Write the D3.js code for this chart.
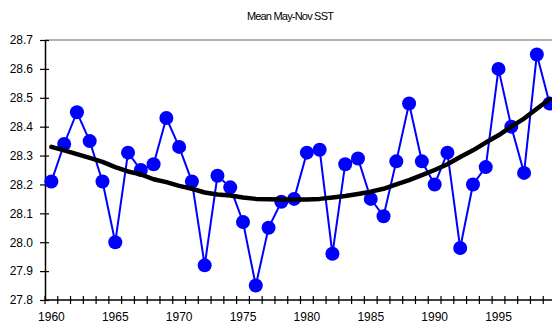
<!DOCTYPE html>
<html>
<head>
<meta charset="utf-8">
<script src="https://cdn.jsdelivr.net/npm/d3@7"></script>
<style>
  body { margin: 0; background: #fff; }
  svg { display: block; font-family: "Liberation Sans", Arial, sans-serif; }
</style>
</head>
<body>
<svg id="chart" width="552" height="324"></svg>
<script>
// years on the category axis
var years = d3.range(1960, 2000);

// mean May-Nov SST
var sst = [28.21, 28.34, 28.45, 28.35, 28.21, 28.00, 28.31, 28.25, 28.27, 28.43,
           28.33, 28.21, 27.92, 28.23, 28.19, 28.07, 27.85, 28.05, 28.14, 28.15,
           28.31, 28.32, 27.96, 28.27, 28.29, 28.15, 28.09, 28.28, 28.48, 28.28,
           28.20, 28.31, 27.98, 28.20, 28.26, 28.60, 28.40, 28.24, 28.65, 28.48];

// smooth trend (black curve)
var trend = [28.33, 28.318, 28.305, 28.292, 28.278, 28.26, 28.245, 28.235, 28.218, 28.208,
             28.195, 28.185, 28.172, 28.165, 28.162, 28.155, 28.15, 28.149, 28.148, 28.148,
             28.148, 28.15, 28.155, 28.16, 28.167, 28.175, 28.185, 28.2, 28.215, 28.232,
             28.25, 28.27, 28.295, 28.318, 28.345, 28.37, 28.4, 28.428, 28.462, 28.495];

var yTicks = [27.8, 27.9, 28.0, 28.1, 28.2, 28.3, 28.4, 28.5, 28.6, 28.7];
var xLabels = [1960, 1965, 1970, 1975, 1980, 1985, 1990, 1995];

var svg = d3.select('#chart');
var plotL = 45, plotR = 556, plotT = 40, plotB = 300;

var x = d3.scaleBand().domain(years).range([plotL, plotR]);
var y = d3.scaleLinear().domain([27.8, 28.7]).range([plotB, plotT]);
var cx = function(d, i) { return x(years[i]) + x.bandwidth() / 2; };

// title
svg.append('text')
    .attr('x', 290).attr('y', 20)
    .attr('text-anchor', 'middle')
    .style('font-size', '11px')
    .style('letter-spacing', '-0.8px')
    .text('Mean May-Nov SST');

// top frame line
svg.append('line')
    .attr('x1', plotL).attr('x2', 552)
    .attr('y1', plotT).attr('y2', plotT)
    .attr('stroke', '#999').attr('stroke-width', 1.5);

// y axis
var yAxis = svg.append('g')
    .attr('transform', 'translate(' + plotL + ',0)')
    .call(d3.axisLeft(y).tickValues(yTicks).tickFormat(d3.format('.1f')).tickSize(5).tickSizeOuter(0));
yAxis.select('.domain').attr('stroke', '#000').attr('stroke-width', 1.5);
yAxis.selectAll('.tick line').attr('x2', 4).attr('x1', -5).attr('stroke-width', 1.2);
yAxis.selectAll('.tick text')
    .attr('x', -12)
    .style('font-size', '12px')
    .style('font-family', '"Liberation Sans", Arial, sans-serif')
    .attr('fill', '#000');

// x axis
svg.append('line')
    .attr('x1', plotL).attr('x2', 552)
    .attr('y1', plotB).attr('y2', plotB)
    .attr('stroke', '#000').attr('stroke-width', 1.5);

svg.append('g').selectAll('line')
    .data(years)
    .enter().append('line')
    .attr('x1', function(d) { return x(d); })
    .attr('x2', function(d) { return x(d); })
    .attr('y1', plotB - 4).attr('y2', plotB + 4)
    .attr('stroke', '#000').attr('stroke-width', 1.2);

svg.append('g').selectAll('text')
    .data(xLabels)
    .enter().append('text')
    .attr('x', function(d) { return x(d) + x.bandwidth() / 2; })
    .attr('y', 320.5)
    .attr('text-anchor', 'middle')
    .style('font-size', '12px')
    .text(function(d) { return d; });

// data series
var line = d3.line().x(cx).y(function(d) { return y(d); });

svg.append('path')
    .datum(sst)
    .attr('d', line)
    .attr('fill', 'none')
    .attr('stroke', '#0000ff')
    .attr('stroke-width', 2);

svg.append('g').selectAll('circle')
    .data(sst)
    .enter().append('circle')
    .attr('cx', cx)
    .attr('cy', function(d) { return y(d); })
    .attr('r', 7)
    .attr('fill', '#0000ff');

// trend curve
svg.append('path')
    .datum(trend)
    .attr('d', line)
    .attr('fill', 'none')
    .attr('stroke', '#000')
    .attr('stroke-width', 4.5)
    .attr('stroke-linejoin', 'round')
    .attr('stroke-linecap', 'round');
</script>
</body>
</html>
